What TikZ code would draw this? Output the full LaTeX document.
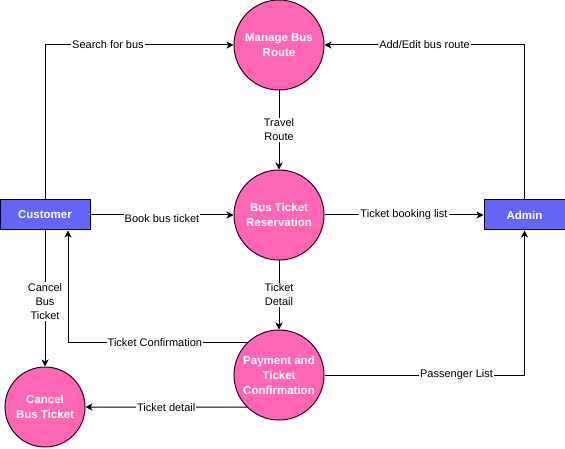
\documentclass[tikz,border=0pt]{standalone}
\usepackage{fontspec}
\setmainfont{Liberation Sans}
\usepackage{xcolor}
\usepackage{tikz}
\usetikzlibrary {arrows.meta,positioning}
\definecolor{procpink}{HTML}{FF66B3}
\definecolor{procline}{HTML}{33001A}
\definecolor{entblue}{HTML}{6464F5}
\definecolor{entline}{HTML}{000033}

\begin{document}
\begin{tikzpicture}[x=1pt, y=-1pt,
  process/.style = {circle, draw=procline, fill=procpink, line width=1pt,
    minimum size=90pt, inner sep=0pt, align=center, text=white,
    font=\fontsize{11.5}{15}\selectfont\bfseries},
  entity/.style = {rectangle, draw=entline, fill=entblue, line width=1pt,
    minimum width=90pt, minimum height=30pt, text=white,
    font=\fontsize{11.5}{14}\selectfont\bfseries},
  flow/.style = {-{Stealth[length=7pt,width=7pt,inset=2pt]}, line width=1pt},
  lbl/.style = {fill=white, inner sep=1pt, align=center,
    font=\fontsize{11}{14}\selectfont}]

\useasboundingbox (0,0) rectangle (565,449);

\node (route) at (279,45) [process]{Manage Bus\\Route};
\node (resv) at (279,215) [process]{Bus Ticket\\Reservation};
\node (pay) at (279,375) [process]{Payment and\\Ticket\\Confirmation};
\node (cancel) at (45,407) [process, minimum size=80pt]{Cancel\\Bus Ticket};

\node (cust) at (45,215) [entity]{Customer};
\node (admin) at (524.5,215) [entity, minimum width=81pt]{Admin};

% data flows
\draw[flow] (cust.north) |- node[lbl, pos=0.667]{Search for bus} (route.west);
\draw[flow] (admin.north) |- node[lbl, pos=0.75]{Add/Edit bus route} (route.east);
\draw[flow] (route) -- node[lbl]{Travel\\Route} (resv);
\draw[flow] (cust) -- node[lbl, yshift=-4pt]{Book bus ticket} (resv);
\draw[flow] (resv) -- node[lbl]{Ticket booking list} (admin);
\draw[flow] (resv) -- node[lbl]{Ticket\\Detail} (pay);
\draw[flow] (pay.135) -| node[lbl, pos=0.257]{Ticket Confirmation} ([xshift=23pt]cust.south);
\draw[flow] (cust) -- node[lbl, yshift=-3pt]{Cancel\\Bus\\Ticket} (cancel);
\draw[flow] (pay.225) -- node[lbl]{Ticket detail} (cancel.east);
\draw[flow] (pay.east) -| node[lbl, pos=0.33]{Passenger List} (admin.south);

\end{tikzpicture}
\end{document}
